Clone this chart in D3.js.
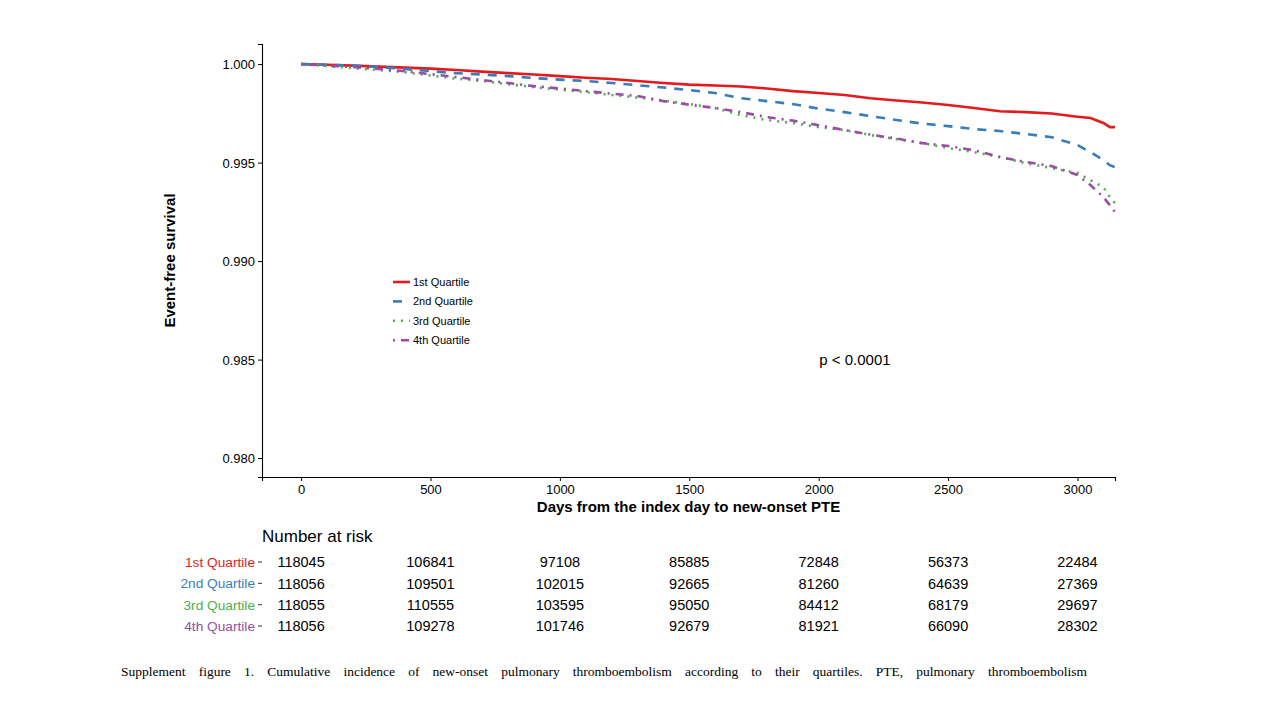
<!DOCTYPE html>
<html>
<head>
<meta charset="utf-8">
<script src="https://cdn.jsdelivr.net/npm/d3@7"></script>
<style>
  body { margin: 0; background: #fff; }
  svg { display: block; font-family: "Liberation Sans", Arial, sans-serif; }
</style>
</head>
<body>
<svg id="chart" width="1280" height="720"></svg>
<script>
// days at which the curves were read
const days = [0, 100, 200, 300, 400, 500, 600, 700, 800, 900, 1000, 1100, 1200, 1300, 1400,
  1500, 1600, 1700, 1800, 1900, 2000, 2100, 2200, 2300, 2400, 2500, 2600, 2700, 2800, 2900,
  3000, 3050, 3100, 3125, 3145];

const q1 = [1.00000, 0.99997, 0.99992, 0.99987, 0.99982, 0.99977, 0.99970, 0.99962, 0.99954, 0.99947,
  0.99939, 0.99931, 0.99924, 0.99914, 0.99904, 0.99896, 0.99891, 0.99886, 0.99876, 0.99863,
  0.99853, 0.99843, 0.99827, 0.99815, 0.99805, 0.99792, 0.99777, 0.99761, 0.99756, 0.99749,
  0.99733, 0.99726, 0.99701, 0.99680, 0.99680];
const q2 = [1.00000, 0.99997, 0.99992, 0.99985, 0.99975, 0.99964, 0.99954, 0.99947, 0.99939, 0.99929,
  0.99921, 0.99914, 0.99904, 0.99893, 0.99881, 0.99868, 0.99853, 0.99827, 0.99812, 0.99797,
  0.99774, 0.99756, 0.99736, 0.99716, 0.99698, 0.99685, 0.99670, 0.99660, 0.99645, 0.99629,
  0.99589, 0.99553, 0.99513, 0.99487, 0.99477];
const q3 = [1.00000, 0.99990, 0.99980, 0.99970, 0.99959, 0.99942, 0.99926, 0.99914, 0.99898, 0.99883,
  0.99871, 0.99858, 0.99843, 0.99830, 0.99815, 0.99797, 0.99777, 0.99741, 0.99716, 0.99701,
  0.99680, 0.99665, 0.99640, 0.99619, 0.99599, 0.99574, 0.99553, 0.99528, 0.99497, 0.99472,
  0.99447, 0.99411, 0.99376, 0.99325, 0.99294];
const q4 = [1.00000, 0.99992, 0.99985, 0.99975, 0.99964, 0.99949, 0.99934, 0.99919, 0.99904, 0.99888,
  0.99876, 0.99863, 0.99850, 0.99838, 0.99812, 0.99794, 0.99777, 0.99756, 0.99731, 0.99713,
  0.99690, 0.99665, 0.99642, 0.99622, 0.99599, 0.99584, 0.99563, 0.99528, 0.99503, 0.99482,
  0.99437, 0.99386, 0.99325, 0.99284, 0.99249];

const groups = ["1st Quartile", "2nd Quartile", "3rd Quartile", "4th Quartile"];
const colors = ["#E41A1C", "#377EB8", "#4DAF4A", "#984EA3"];
const dashes = [null, "9,8", "2,6", "2,6,8,6"];

const yTicks = [0.980, 0.985, 0.990, 0.995, 1.000];
const xTicks = [0, 500, 1000, 1500, 2000, 2500, 3000];

// number at risk, at each x tick
const riskTimes = [0, 500, 1000, 1500, 2000, 2500, 3000];
const risk1 = [118045, 106841, 97108, 85885, 72848, 56373, 22484];
const risk2 = [118056, 109501, 102015, 92665, 81260, 64639, 27369];
const risk3 = [118055, 110555, 103595, 95050, 84412, 68179, 29697];
const risk4 = [118056, 109278, 101746, 92679, 81921, 66090, 28302];

const caption = "Supplement figure 1. Cumulative incidence of new-onset pulmonary thromboembolism according to their quartiles. PTE, pulmonary thromboembolism";

const series = [q1, q2, q3, q4];
const risks = [risk1, risk2, risk3, risk4];

const svg = d3.select("#chart");

// panel edges
const pLeft = 262, pRight = 1115, pTop = 44, pBottom = 477;

const x = d3.scaleLinear().domain([-151, 3145]).range([pLeft, pRight]);
const y = d3.scaleLinear().domain([0.97904, 1.00102]).range([pBottom, pTop]);

// axes
const yAxis = svg.append("g")
  .attr("transform", `translate(${pLeft},0)`)
  .call(d3.axisLeft(y).tickValues(yTicks).tickFormat(d3.format(".3f")).tickSizeOuter(0).tickSize(4).tickPadding(3));
const xAxis = svg.append("g")
  .attr("transform", `translate(0,${pBottom})`)
  .call(d3.axisBottom(x).tickValues(xTicks).tickFormat(d3.format("d")).tickSizeOuter(0).tickSize(4).tickPadding(4));

[yAxis, xAxis].forEach(g => {
  g.selectAll("text").attr("font-size", 13).attr("fill", "#000")
    .attr("font-family", "Liberation Sans, Arial, sans-serif");
  g.selectAll("line").attr("stroke", "#000");
  g.select(".domain").attr("stroke", "#000").attr("stroke-width", 1.1);
});
yAxis.selectAll("text").attr("dy", "0.36em");

// curves
const line = d3.line()
  .x((d, i) => x(days[i]))
  .y(d => y(d));

series.forEach((s, i) => {
  svg.append("path")
    .datum(s)
    .attr("d", line)
    .attr("fill", "none")
    .attr("stroke", colors[i])
    .attr("stroke-width", 2.6)
    .attr("stroke-dasharray", dashes[i]);
});

// axis titles
svg.append("text")
  .attr("transform", `translate(175,${(pTop + pBottom) / 2}) rotate(-90)`)
  .attr("text-anchor", "middle")
  .attr("font-size", 15)
  .attr("font-weight", "bold")
  .text("Event-free survival");

svg.append("text")
  .attr("x", (pLeft + pRight) / 2)
  .attr("y", 512)
  .attr("text-anchor", "middle")
  .attr("font-size", 15)
  .attr("font-weight", "bold")
  .text("Days from the index day to new-onset PTE");

// legend
const legend = svg.append("g").attr("transform", "translate(393,282)");
groups.forEach((g, i) => {
  const row = legend.append("g").attr("transform", `translate(0,${i * 19.4})`);
  row.append("line")
    .attr("x1", 0).attr("x2", 17)
    .attr("stroke", colors[i])
    .attr("stroke-width", 2.6)
    .attr("stroke-dasharray", dashes[i]);
  row.append("text")
    .attr("x", 20)
    .attr("dy", "0.35em")
    .attr("font-size", 11)
    .text(g);
});

svg.append("text")
  .attr("x", 855)
  .attr("y", 365)
  .attr("text-anchor", "middle")
  .attr("font-size", 15)
  .text("p < 0.0001");

// number at risk table
svg.append("text")
  .attr("x", pLeft)
  .attr("y", 542)
  .attr("font-size", 17)
  .text("Number at risk");

const rowY = d3.scalePoint().domain(groups).range([562, 626]);

groups.forEach((g, i) => {
  const yy = rowY(g);
  svg.append("text")
    .attr("x", 255)
    .attr("y", yy)
    .attr("dy", "0.36em")
    .attr("text-anchor", "end")
    .attr("font-size", 13.7)
    .attr("fill", colors[i])
    .text(g);
  svg.append("line")
    .attr("x1", 258).attr("x2", 262)
    .attr("y1", yy).attr("y2", yy)
    .attr("stroke", "#333");
  svg.selectAll(null)
    .data(risks[i])
    .enter()
    .append("text")
    .attr("x", (d, j) => x(riskTimes[j]))
    .attr("y", yy)
    .attr("dy", "0.36em")
    .attr("text-anchor", "middle")
    .attr("font-size", 14.5)
    .text(d => d);
});

// caption, spread across the width like the justified original
const cap = svg.append("text")
  .attr("x", 121)
  .attr("y", 676)
  .attr("font-family", "Liberation Serif, Times New Roman, serif")
  .attr("font-size", 13.5)
  .text(caption);
const natural = cap.node().getComputedTextLength();
const spaces = caption.split(" ").length - 1;
cap.attr("word-spacing", Math.max(0, (966 - natural) / spaces));
</script>
</body>
</html>
